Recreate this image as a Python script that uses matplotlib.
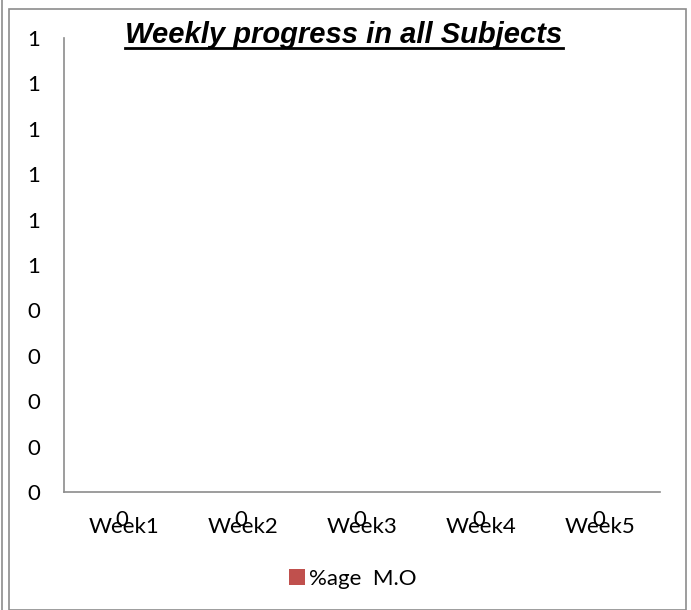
import matplotlib.pyplot as plt
from matplotlib.lines import Line2D
from matplotlib.patches import Rectangle

weeks = ["Week1", "Week2", "Week3", "Week4", "Week5"]
mo_pct = [0, 0, 0, 0, 0]
series_name = "%age  M.O"
y_ticks = [0, 0.1, 0.2, 0.3, 0.4, 0.5, 0.6, 0.7, 0.8, 0.9, 1.0]

plt.rcParams['font.family'] = ['Lato', 'DejaVu Sans']

fig = plt.figure(figsize=(6.91, 6.10), dpi=100)
W, H = 691, 610

# outer frame lines like the chart object border
fig.add_artist(Rectangle((9 / W, 0), (686 - 9) / W, 1 - 9 / H, transform=fig.transFigure,
                         fill=False, edgecolor='#8c8c8c', linewidth=1.2))
fig.add_artist(Line2D([2 / W, 2 / W], [0, 1], transform=fig.transFigure, color='#8c8c8c', linewidth=1.2))

ax = fig.add_axes([64 / W, 1 - 492 / H, (660 - 64) / W, (492 - 38) / H])
x = range(len(weeks))
bars = ax.bar(x, mo_pct, width=0.6, color='#C0504D', label=series_name)

ax.set_ylim(0, 1)
ax.set_xlim(-0.5, len(weeks) - 0.5)
ax.set_yticks(y_ticks)
ax.set_yticklabels([f"{v:.0f}" if v != 0.5 else "1" for v in y_ticks], fontsize=16)
ax.set_xticks(list(x))
ax.set_xticklabels(weeks, fontsize=16)
ax.tick_params(axis='both', length=0)
ax.tick_params(axis='y', pad=17)
ax.tick_params(axis='x', pad=18)

for s in ['top', 'right']:
    ax.spines[s].set_visible(False)
for s in ['left', 'bottom']:
    ax.spines[s].set_color('#8c8c8c')
    ax.spines[s].set_linewidth(1.2)

for i, v in enumerate(mo_pct):
    ax.annotate(str(v), (i, v), xytext=(-1.5, -20), textcoords='offset points',
                ha='center', va='center', fontsize=16, annotation_clip=False)

title = fig.text(344 / W, 1 - 35 / H, "Weekly progress in all Subjects", ha='center', va='center',
                 fontsize=21, fontweight='bold', fontstyle='italic', family='Liberation Sans')
fig.canvas.draw()
bb = title.get_window_extent().transformed(fig.transFigure.inverted())
fig.add_artist(Line2D([bb.x0, bb.x1], [bb.y0 + 0.002, bb.y0 + 0.002], transform=fig.transFigure,
                      color='black', linewidth=2))

fig.legend(handles=[bars], labels=[series_name], loc='center', bbox_to_anchor=(353 / W, 1 - 579 / H),
           frameon=False, fontsize=16, handlelength=0.7, handleheight=0.7, handletextpad=0.2)

fig.savefig("out.png", dpi=100)
